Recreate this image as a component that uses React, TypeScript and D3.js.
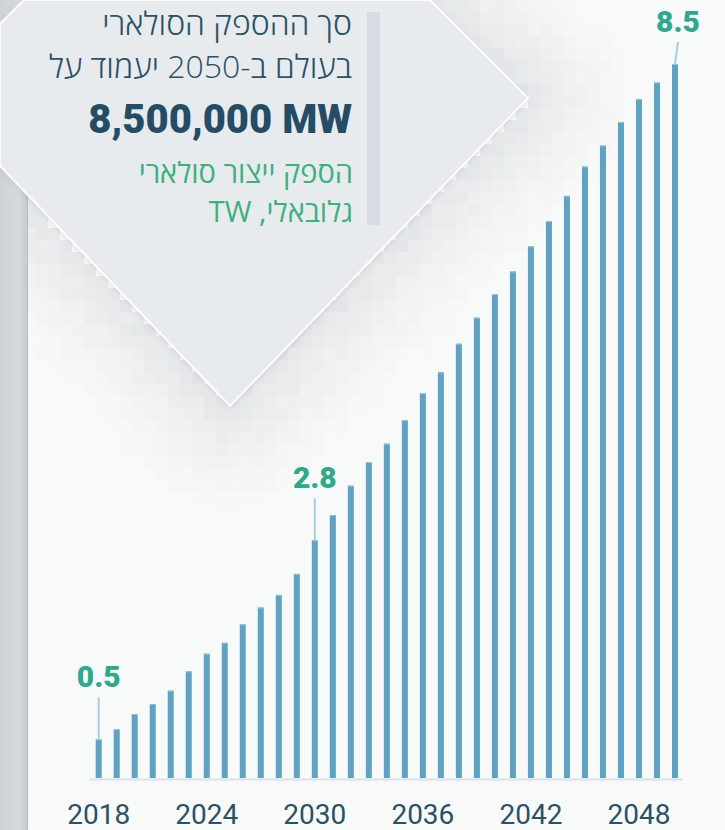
import React from 'react';
import * as d3 from 'd3';

const years = [
  2018, 2019, 2020, 2021, 2022, 2023, 2024, 2025, 2026, 2027, 2028,
  2029, 2030, 2031, 2032, 2033, 2034, 2035, 2036, 2037, 2038, 2039,
  2040, 2041, 2042, 2043, 2044, 2045, 2046, 2047, 2048, 2049, 2050,
];
// global solar capacity, TW
const capacityTW = [
  0.46, 0.58, 0.76, 0.88, 1.04, 1.27, 1.48, 1.61, 1.83, 2.03, 2.18,
  2.43, 2.83, 3.13, 3.48, 3.76, 3.98, 4.26, 4.58, 4.83, 5.17, 5.48,
  5.76, 6.03, 6.33, 6.63, 6.93, 7.28, 7.53, 7.81, 8.08, 8.28, 8.5,
];
const tickYears = [2018, 2024, 2030, 2036, 2042, 2048];
const calloutYears = [2018, 2030, 2050];
const calloutLabels = ['0.5', '2.8', '8.5'];

const headingLines = ['סך ההספק הסולארי', 'בעולם ב-2050 יעמוד על'];
const headline = '8,500,000 MW';
const subtitleLines = ['הספק ייצור סולארי', 'גלובאלי, TW'];

const W = 725;
const H = 830;
const baseline = 778;

const navy = '#2b5167';
const teal = '#2fa98c';
const green = '#3cb17f';
const barColor = '#5fa2c4';

// tilted card in the top-left corner
const card: [number, number][] = [
  [0, 24], [24, 0], [430, 0], [528, 98], [230, 406], [0, 166],
];

function segDist(px, py, [ax, ay], [bx, by]) {
  const dx = bx - ax;
  const dy = by - ay;
  const t = Math.max(0, Math.min(1, ((px - ax) * dx + (py - ay) * dy) / (dx * dx + dy * dy)));
  return Math.hypot(px - (ax + t * dx), py - (ay + t * dy));
}

function hash(i, j) {
  const s = Math.sin(i * 127.1 + j * 311.7) * 43758.5453;
  return s - Math.floor(s);
}

function mosaic() {
  const cells = [];
  const size = 12;
  for (let i = 0; i * size < 620; i++) {
    for (let j = 0; j * size < 520; j++) {
      const cx = i * size + size / 2;
      const cy = j * size + size / 2;
      if (d3.polygonContains(card, [cx, cy])) continue;
      let d = Infinity;
      for (let k = 0; k < card.length; k++) {
        d = Math.min(d, segDist(cx, cy, card[k], card[(k + 1) % card.length]));
      }
      const f = Math.max(0, 1 - d / 130);
      if (f <= 0) continue;
      const a = 0.2 * f * f + (hash(i, j) - 0.5) * 0.05 * f;
      if (a <= 0.01) continue;
      cells.push({ x: i * size, y: j * size, a });
    }
  }
  return cells;
}

export default function App() {
  const x = d3
    .scaleBand<number>()
    .domain(years)
    .range([95.7, 678])
    .paddingInner(2 / 3)
    .paddingOuter(0);

  const y = d3
    .scaleLinear()
    .domain([0, 8.5])
    .range([baseline, 64]);

  const bw = x.bandwidth();
  const cells = mosaic();
  const cardPath = 'M' + card.map((p) => p.join(',')).join('L') + 'Z';

  return (
    <svg
      width={W}
      height={H}
      viewBox={`0 0 ${W} ${H}`}
      style={{ position: 'absolute', left: 0, top: 0 }}
    >
      <defs>
        <linearGradient id="strip" x1="0" x2="1" y1="0" y2="0">
          <stop offset="0%" stopColor="#cfd3d7" />
          <stop offset="70%" stopColor="#d6dadd" />
          <stop offset="100%" stopColor="#c3c8cc" />
        </linearGradient>
        <filter id="cardShadow" x="-10%" y="-10%" width="130%" height="130%">
          <feDropShadow dx="0" dy="2" stdDeviation="3" floodColor="#7d868e" floodOpacity="0.25" />
        </filter>
      </defs>

      <rect width={W} height={H} fill="#f8f9f9" />

      <g className="mosaic">
        {cells.map((c, i) => (
          <rect key={i} x={c.x} y={c.y} width={12} height={12} fill="#8f99a2" fillOpacity={c.a} />
        ))}
      </g>

      <rect x={0} y={0} width={28} height={H} fill="url(#strip)" />
      <line x1={27.5} x2={27.5} y1={0} y2={H} stroke="#b8bdc2" strokeWidth={1} />

      <path d={cardPath} fill="#e8ebee" filter="url(#cardShadow)" />
      <path d={cardPath} fill="none" stroke="#ffffff" strokeWidth={2} strokeOpacity={0.9} />

      <rect x={367} y={12} width={13} height={213} fill="#d8dce2" />

      <g className="heading" direction="rtl" textAnchor="start">
        {headingLines.map((t, i) => (
          <text
            key={t}
            x={352}
            y={35 + i * 43}
            fill={navy}
            fontFamily="'Open Sans', 'DejaVu Sans', sans-serif"
            fontWeight={300}
            fontSize={32}
          >
            {t}
          </text>
        ))}
        <text
          x={352}
          y={133}
          direction="ltr"
          textAnchor="end"
          fill="#244d65"
          fontFamily="Roboto, 'Open Sans', sans-serif"
          fontWeight={900}
          fontSize={40}
        >
          {headline}
        </text>
        {subtitleLines.map((t, i) => (
          <text
            key={t}
            x={353}
            y={183 + i * 39}
            fill={green}
            fontFamily="'Open Sans', 'DejaVu Sans', sans-serif"
            fontWeight={500}
            fontSize={29}
          >
            {t}
          </text>
        ))}
      </g>

      <line
        x1={90}
        x2={683}
        y1={baseline + 1.5}
        y2={baseline + 1.5}
        stroke="#d5e4ee"
        strokeWidth={2}
      />

      <g className="bars">
        {years.map((yr, i) => (
          <g key={yr}>
            <rect
              x={x(yr)}
              y={y(capacityTW[i])}
              width={bw}
              height={baseline - y(capacityTW[i])}
              fill={barColor}
            />
            <rect x={x(yr)} y={y(capacityTW[i])} width={bw} height={1} fill="#93c3da" />
          </g>
        ))}
      </g>

      <g className="callouts">
        {calloutYears.map((yr, i) => {
          const v = capacityTW[years.indexOf(yr)];
          const cx = x(yr) + bw / 2;
          const ty = Math.max(32, y(v) - 52);
          return (
            <g key={yr}>
              <line
                x1={cx + (ty < 40 ? 3 : 0)}
                x2={cx}
                y1={ty + 10}
                y2={y(v)}
                stroke="#a8cde0"
                strokeWidth={2}
              />
              <text
                x={cx + (ty < 40 ? 3 : 0)}
                y={ty}
                textAnchor="middle"
                fill={teal}
                fontFamily="Roboto, sans-serif"
                fontWeight={900}
                fontSize={30}
              >
                {calloutLabels[i]}
              </text>
            </g>
          );
        })}
      </g>

      <g className="axis">
        {tickYears.map((yr) => (
          <text
            key={yr}
            x={x(yr) + bw / 2}
            y={824}
            textAnchor="middle"
            fill={navy}
            fontFamily="Roboto, sans-serif"
            fontWeight={400}
            fontSize={28}
          >
            {yr}
          </text>
        ))}
      </g>
    </svg>
  );
}
